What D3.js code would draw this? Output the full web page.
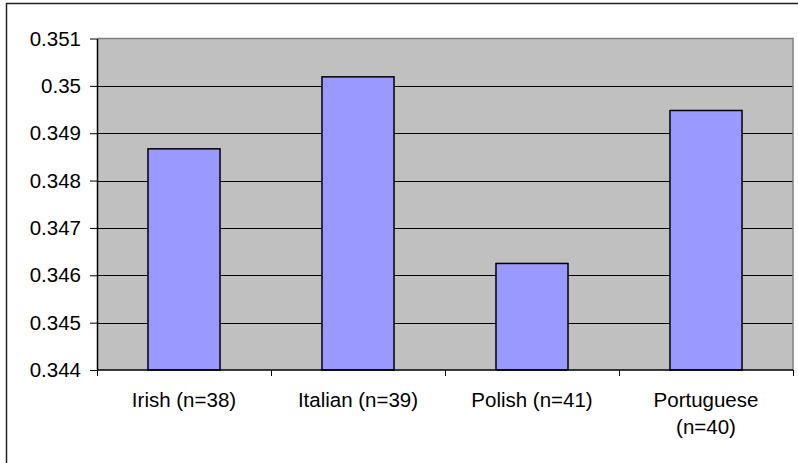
<!DOCTYPE html>
<html>
<head>
<meta charset="utf-8">
<script src="https://cdn.jsdelivr.net/npm/d3@7"></script>
<style>
  html, body { margin: 0; padding: 0; background: #fff; }
  svg { display: block; }
  text { font-family: "Liberation Sans", Arial, sans-serif; fill: #000; }
</style>
</head>
<body>
<svg id="chart" width="798" height="463"></svg>
<script>
// Groups and their mean values
const categories = ["Irish (n=38)", "Italian (n=39)", "Polish (n=41)", "Portuguese (n=40)"];
const categoryLabels = [["Irish (n=38)"], ["Italian (n=39)"], ["Polish (n=41)"], ["Portuguese", "(n=40)"]];
const values = [0.34867, 0.35019, 0.34625, 0.34948];
const yTicks = [0.344, 0.345, 0.346, 0.347, 0.348, 0.349, 0.35, 0.351];
const yTickLabels = ["0.344", "0.345", "0.346", "0.347", "0.348", "0.349", "0.35", "0.351"];

const svg = d3.select("#chart");
const plot = { left: 97, top: 38.5, right: 793, bottom: 370 };

// Outer chart frame (runs past the right and bottom edges)
svg.append("rect")
  .attr("x", 6.5).attr("y", 3.5)
  .attr("width", 900).attr("height", 600)
  .attr("fill", "none").attr("stroke", "#222").attr("stroke-width", 1.5);

const x = d3.scaleBand()
  .domain(categories)
  .range([plot.left, plot.right])
  .paddingInner(0.586)
  .paddingOuter(0.293);

const y = d3.scaleLinear()
  .domain([0.344, 0.351])
  .range([plot.bottom, plot.top]);

// Plot area background
svg.append("rect")
  .attr("x", plot.left).attr("y", plot.top)
  .attr("width", plot.right - plot.left).attr("height", plot.bottom - plot.top)
  .attr("fill", "#C0C0C0");

// Horizontal gridlines
svg.append("g")
  .selectAll("line")
  .data(yTicks.slice(1, -1))
  .join("line")
  .attr("x1", plot.left).attr("x2", plot.right)
  .attr("y1", d => Math.round(y(d)) + 0.5).attr("y2", d => Math.round(y(d)) + 0.5)
  .attr("stroke", "#000").attr("stroke-width", 1);

// Plot area border on top and right
svg.append("path")
  .attr("d", `M${plot.left},${plot.top}H${plot.right}V${plot.bottom}`)
  .attr("fill", "none").attr("stroke", "#808080").attr("stroke-width", 1.5);

// Bars
svg.append("g")
  .selectAll("rect")
  .data(categories)
  .join("rect")
  .attr("x", d => x(d))
  .attr("y", (d, i) => y(values[i]))
  .attr("width", x.bandwidth())
  .attr("height", (d, i) => plot.bottom - y(values[i]))
  .attr("fill", "#9999FF")
  .attr("stroke", "#000").attr("stroke-width", 1.5);

// Y axis
const yAxis = d3.axisLeft(y)
  .tickValues(yTicks)
  .tickFormat((d, i) => yTickLabels[i])
  .tickSize(7)
  .tickPadding(9)
  .tickSizeOuter(0);
const gy = svg.append("g")
  .attr("transform", `translate(${plot.left},0)`)
  .call(yAxis);
gy.select(".domain").attr("stroke", "#000").attr("stroke-width", 1.5);
gy.selectAll(".tick line").attr("stroke", "#000");
gy.selectAll(".tick text")
  .attr("font-size", 20.5)
  .style("font-family", "'Liberation Sans', Arial, sans-serif")
  .attr("fill", "#000");

// X axis line with ticks on category boundaries
const step = x.step();
const boundaries = d3.range(categories.length + 1).map(i => plot.left + i * step);
svg.append("line")
  .attr("x1", plot.left).attr("x2", plot.right)
  .attr("y1", plot.bottom).attr("y2", plot.bottom)
  .attr("stroke", "#000").attr("stroke-width", 1.5);
svg.append("g")
  .selectAll("line")
  .data(boundaries)
  .join("line")
  .attr("x1", d => Math.round(d) + 0.5).attr("x2", d => Math.round(d) + 0.5)
  .attr("y1", plot.bottom).attr("y2", plot.bottom + 6)
  .attr("stroke", "#000");

// Category labels
const lbl = svg.append("g")
  .selectAll("text")
  .data(categories)
  .join("text")
  .attr("x", d => x(d) + x.bandwidth() / 2)
  .attr("y", 407)
  .attr("text-anchor", "middle")
  .attr("font-size", 20.5);
lbl.selectAll("tspan")
  .data((d, i) => categoryLabels[i])
  .join("tspan")
  .attr("x", function () { return this.parentNode.getAttribute("x"); })
  .attr("dy", (d, j) => j === 0 ? 0 : 27)
  .text(d => d);
</script>
</body>
</html>
